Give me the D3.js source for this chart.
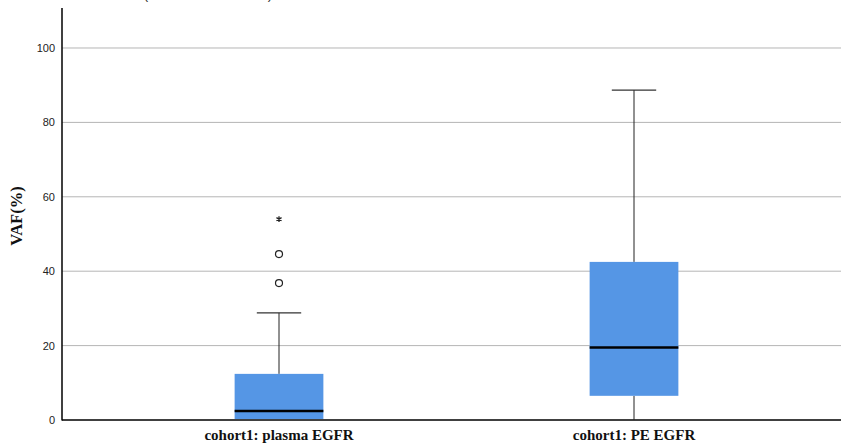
<!DOCTYPE html>
<html><head><meta charset="utf-8">
<script src="https://cdn.jsdelivr.net/npm/d3@7"></script>
<style>body{margin:0;background:#fff}</style>
</head><body>
<svg id="c" width="841" height="447"></svg>
<script>
const categories = ["cohort1: plasma EGFR", "cohort1: PE EGFR"];
const whiskerLow = [0, 0];
const q1 = [0, 6.5];
const median = [2.4, 19.5];
const q3 = [12.4, 42.5];
const whiskerHigh = [28.8, 88.7];
const outlierCircles = [[36.8, 44.6], []];
const outlierStars = [[54.0], []];
const yTicks = [0, 20, 40, 60, 80, 100];
const yLabel = "VAF(%)";
const titleText = "(cohort1 EGFR VAF)";

(function () {
const svg = d3.select("#c");
const mLeft = 62, mRight = 841, mTop = 8, mBottom = 420;
const y = d3.scaleLinear().domain([0, 110.75]).range([mBottom, mTop]);
const x = d3.scaleBand().domain(categories).range([101.5, 811.5]).padding(0);
const bw = x.bandwidth() * 0.25;
const capW = bw / 2;

// title (partly above the top edge, as in the reference)
svg.append("text").attr("x", 208).attr("y", -1).attr("text-anchor", "middle")
  .attr("font-family", "Liberation Sans, Arial").attr("font-size", 14).attr("fill", "#333").text(titleText);

// grid
svg.append("g").selectAll("line").data(yTicks.filter(d => d > 0)).join("line")
  .attr("x1", mLeft).attr("x2", mRight).attr("y1", d => y(d)).attr("y2", d => y(d))
  .attr("stroke", "#b5b5b5").attr("stroke-width", 1);

// y axis
const ya = svg.append("g").attr("transform", `translate(${mLeft},0)`)
  .call(d3.axisLeft(y).tickValues(yTicks).tickSize(0).tickPadding(7));
ya.select(".domain").remove();
ya.selectAll("text").attr("font-family", "Liberation Sans, Arial").attr("font-size", 11).attr("fill", "#222");
svg.append("line").attr("x1", mLeft).attr("x2", mLeft).attr("y1", mTop).attr("y2", mBottom + 0.5)
  .attr("stroke", "#000").attr("stroke-width", 1.5);
svg.append("line").attr("x1", mLeft).attr("x2", mRight).attr("y1", mBottom).attr("y2", mBottom)
  .attr("stroke", "#000").attr("stroke-width", 1.5);

// x labels
const xa = svg.append("g").attr("transform", `translate(0,${mBottom})`)
  .call(d3.axisBottom(x).tickSize(0).tickPadding(9));
xa.select(".domain").remove();
xa.selectAll("text").attr("font-family", "Liberation Serif, Times New Roman").attr("font-weight", "bold")
  .attr("font-size", 15).attr("fill", "#111");

// y label
svg.append("text").attr("transform", `translate(22,${(mTop + mBottom) / 2 + 2}) rotate(-90)`)
  .attr("text-anchor", "middle").attr("font-family", "Liberation Serif, Times New Roman")
  .attr("font-weight", "bold").attr("font-size", 16.5).attr("fill", "#111").text(yLabel);

const g = svg.append("g");
categories.forEach((c, i) => {
  const cx = x(c) + x.bandwidth() / 2;
  g.append("line").attr("x1", cx).attr("x2", cx).attr("y1", y(q3[i])).attr("y2", y(whiskerHigh[i]))
    .attr("stroke", "#222").attr("stroke-width", 1);
  g.append("line").attr("x1", cx - capW / 2).attr("x2", cx + capW / 2)
    .attr("y1", y(whiskerHigh[i])).attr("y2", y(whiskerHigh[i])).attr("stroke", "#333").attr("stroke-width", 1.3);
  if (q1[i] > whiskerLow[i]) {
    g.append("line").attr("x1", cx).attr("x2", cx).attr("y1", y(whiskerLow[i])).attr("y2", y(q1[i]))
      .attr("stroke", "#222").attr("stroke-width", 1);
  }
  g.append("rect").attr("x", cx - bw / 2).attr("width", bw)
    .attr("y", y(q3[i])).attr("height", Math.max(0, y(q1[i]) - y(q3[i]) - (q1[i] === 0 ? 1 : 0)))
    .attr("fill", "#5596e5");
  g.append("line").attr("x1", cx - bw / 2).attr("x2", cx + bw / 2)
    .attr("y1", y(median[i])).attr("y2", y(median[i])).attr("stroke", "#000").attr("stroke-width", 2.5);
  outlierCircles[i].forEach(v => {
    g.append("circle").attr("cx", cx).attr("cy", y(v)).attr("r", 3.5)
      .attr("fill", "#fff").attr("stroke", "#222").attr("stroke-width", 1.2);
  });
  outlierStars[i].forEach(v => {
    g.append("path").attr("d", d3.symbol(d3.symbolAsterisk, 24)())
      .attr("transform", `translate(${cx},${y(v)})`).attr("stroke", "#222").attr("stroke-width", 1.3).attr("fill", "none");
  });
});
})();
</script>
</body></html>
